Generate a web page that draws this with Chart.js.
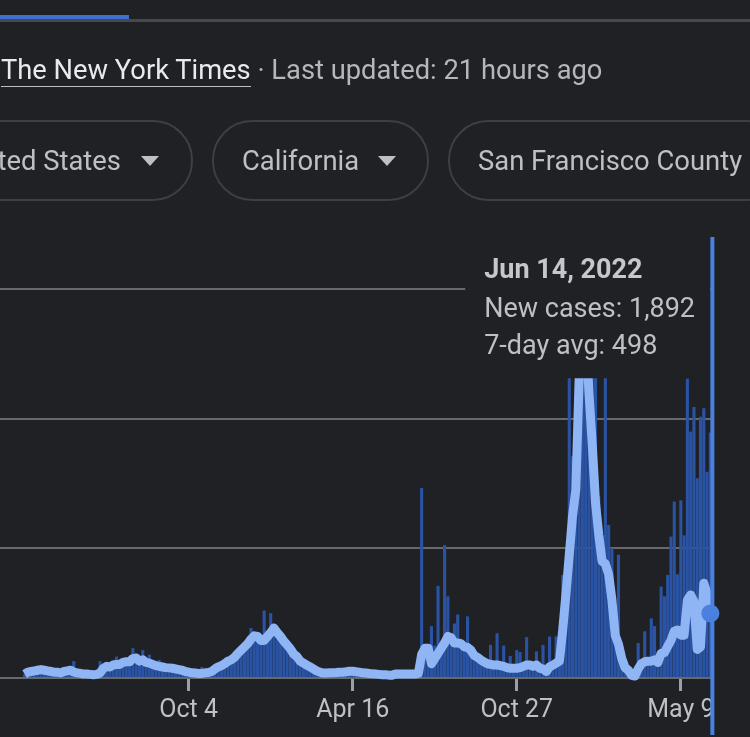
<!DOCTYPE html>
<html>
<head>
<meta charset="utf-8">
<title>New cases - San Francisco County</title>
<script src="https://cdn.jsdelivr.net/npm/chart.js@4"></script>
<style>
  html, body { margin: 0; padding: 0; width: 750px; height: 737px; overflow: hidden; background: #202124; font-family: Roboto, sans-serif; }
  .tab-line { position: absolute; left: 0; top: 19px; width: 750px; height: 3px; background: #46484b; }
  .tab-active { position: absolute; left: 0; top: 15px; width: 129px; height: 4px; background: #3f6fd0; }
  .source { position: absolute; left: 1px; top: 54px; font-size: 27.3px; line-height: 32px; color: #b4b7bc; white-space: nowrap; }
  .source a { color: #e8eaed; text-decoration: none; border-bottom: 1px solid #bdc1c6; }
  .pill { position: absolute; top: 120px; height: 81px; box-sizing: border-box; border: 2px solid #3c4043; border-radius: 40px; color: #bdc1c6; font-size: 27.4px; line-height: 79px; white-space: nowrap; overflow: hidden; }
  .arrow { position: absolute; top: 34px; width: 0; height: 0; border-left: 9px solid transparent; border-right: 9px solid transparent; border-top: 10px solid #bdc1c6; }
  .chart-box { position: absolute; left: 0; top: 0; width: 750px; height: 737px; }
</style>
</head>
<body>
<div class="chart-box"><canvas id="chart"></canvas></div>
<div class="tab-line"></div>
<div class="tab-active"></div>
<div class="source"><a>The New York Times</a> · Last updated: 21 hours ago</div>
<div class="pill" style="left:-100px;width:293px"><span style="position:absolute;right:70px">United States</span><div class="arrow" style="left:239px"></div></div>
<div class="pill" style="left:212px;width:217px"><span style="position:absolute;left:28px">California</span><div class="arrow" style="left:164px"></div></div>
<div class="pill" style="left:448px;width:340px"><span style="position:absolute;left:28px">San Francisco County</span></div>

<script>
const tickLabels = ["Oct 4", "Apr 16", "Oct 27", "May 9"]
const tickIndexes = [57, 107, 157, 207]
const lastDate = "Jun 14, 2022"

// one value about every 4 days
const newCases = [
  null, null, null, null, null, null, null, 30, 40, 45,
  50, 55, 60, 55, 50, 45, 40, 40, 35, 45,
  50, 55, 130, 35, 30, 25, 25, 25, 20, 25,
  130, 70, 85, 80, 95, 165, 100, 115, 120, 120,
  230, 150, 125, 215, 115, 180, 100, 90, 140, 80,
  75, 70, 70, 65, 60, 55, 45, 40, 35, 35,
  30, 85, 35, 40, 45, 65, 80, 90, 105, 125,
  135, 155, 185, 210, 235, 280, 385, 320, 315, 285,
  520, 315, 500, 380, 345, 315, 280, 250, 220, 205,
  160, 125, 110, 95, 80, 65, 50, 40, 35, 35,
  35, 35, 40, 40, 40, 45, 48, 48, 45, 40,
  35, 35, 30, 30, 25, 25, 20, 20, 20, 20,
  25, 25, 25, 25, 25, 25, 25, 30, 1465, 150,
  200, 400, 250, 710, 250, 1025, 630, 300, 420, 490,
  260, 235, 475, 210, 170, 155, 135, 120, 105, 255,
  95, 345, 90, 250, 75, 170, 70, 215, 200, 85,
  315, 95, 85, 205, 70, 255, 45, 320, 95, 320,
  125, 795, 640, 3100, 1710, 1500, 3300, 3000, 3200, 2800,
  2500, 2900, 1400, 1100, 2900, 1180, 1000, 350, 950, 200,
  80, 50, 10, 10, 270, 105, 360, 125, 460, 400,
  115, 705, 630, 795, 1090, 1360, 800, 1370, 1100, 2310,
  1900, 2090, 1540, 2015, 2080, 1590, 1892
]

const sevenDayAvg = [
  null, null, null, null, null, null, null, 30, 45, 50,
  55, 60, 65, 60, 55, 50, 45, 45, 40, 50,
  55, 60, 45, 40, 35, 30, 30, 28, 25, 28,
  40, 75, 90, 85, 100, 105, 105, 120, 125, 125,
  150, 155, 130, 140, 120, 115, 105, 95, 90, 85,
  80, 78, 75, 70, 65, 60, 50, 45, 40, 38,
  35, 35, 40, 42, 50, 70, 85, 95, 110, 130,
  140, 160, 190, 215, 240, 265, 300, 325, 320, 290,
  290, 320, 350, 385, 350, 320, 285, 255, 225, 185,
  165, 130, 115, 100, 85, 70, 55, 45, 38, 38,
  40, 40, 42, 45, 45, 48, 52, 52, 48, 45,
  40, 38, 35, 32, 30, 28, 25, 25, 22, 22,
  30, 30, 30, 30, 30, 30, 30, 35, 180, 230,
  230, 110, 150, 190, 230, 270, 320, 310, 270, 270,
  265, 240, 235, 215, 175, 160, 140, 125, 110, 105,
  100, 100, 95, 90, 80, 75, 75, 75, 80, 90,
  100, 100, 90, 100, 75, 70, 50, 85, 100, 115,
  130, 370, 650, 950, 1250, 1450, 2300, 2850, 2700, 2200,
  1800, 1350, 1100, 900, 880, 800, 600, 330, 260, 150,
  80, 60, 20, 15, 70, 110, 125, 130, 130, 140,
  120, 190, 195, 245, 290, 360, 370, 330, 330, 600,
  640, 590, 220, 240, 730, 650, 498
]

const categories = newCases.map((v, i) => i)
const lastIndex = categories.length - 1

// tooltip stays pinned to the top right, next to the cursor line
Chart.Tooltip.positioners.pinned = () => ({ x: 710, y: 235 })

// vertical cursor on the selected day
const cursorLine = {
  id: "cursorLine",
  afterDatasetsDraw(chart) {
    const x = chart.scales.x.getPixelForValue(lastIndex) + 2
    const ctx = chart.ctx
    ctx.save()
    ctx.strokeStyle = "#4a80e0"
    ctx.lineWidth = 4
    ctx.beginPath()
    ctx.moveTo(x, chart.chartArea.top)
    ctx.lineTo(x, chart.height - 2)
    ctx.stroke()
    ctx.restore()
  },
}

const chart = new Chart(document.getElementById("chart"), {
  type: "bar",
  plugins: [cursorLine],
  data: {
    labels: categories,
    datasets: [
      {
        label: "New cases",
        data: newCases,
        order: 2,
        backgroundColor: "#2a53a3",
        barPercentage: 0.95,
        categoryPercentage: 1,
      },
      {
        type: "line",
        label: "7-day avg",
        data: sevenDayAvg,
        order: 1,
        borderColor: "#8fb5f5",
        borderWidth: 9,
        borderJoinStyle: "round",
        tension: 0,
        pointRadius: ctx => (ctx.dataIndex === lastIndex ? 9 : 0),
        pointHoverRadius: ctx => (ctx.dataIndex === lastIndex ? 9 : 0),
        pointBorderWidth: 0,
        pointHoverBorderWidth: 0,
        pointBackgroundColor: "#4a80e0",
        pointHoverBackgroundColor: "#4a80e0",
        clip: false,
      },
    ],
  },
  options: {
    responsive: true,
    maintainAspectRatio: false,
    animation: false,
    layout: { autoPadding: false, padding: { top: 237, right: 38, left: 0, bottom: 0 } },
    events: [],
    scales: {
      x: {
        grid: { display: true, offset: false, drawOnChartArea: false, tickLength: 13, tickColor: "#9aa0a6", tickWidth: 3 },
        border: { display: false },
        afterBuildTicks: scale => {
          scale.ticks = tickIndexes.map(v => ({ value: v }))
        },
        afterFit: scale => {
          scale.height = 59
          scale.paddingLeft = 0
          scale.paddingRight = 0
        },
        ticks: {
          autoSkip: false,
          maxRotation: 0,
          padding: 5,
          color: "#bdc1c6",
          font: { family: "Roboto", size: 25 },
          callback: value => tickLabels[tickIndexes.indexOf(value)],
        },
      },
      y: {
        min: 0,
        max: 3400,
        afterFit: scale => {
          scale.width = 0
        },
        afterBuildTicks: scale => {
          scale.ticks = [0, 1000, 2000, 3000].map(v => ({ value: v }))
        },
        ticks: { display: false },
        border: { display: false },
        grid: { color: "#68696b", lineWidth: 2, drawTicks: false },
      },
    },
    plugins: {
      legend: { display: false },
      tooltip: {
        enabled: true,
        position: "pinned",
        mode: "index",
        intersect: false,
        xAlign: "right",
        yAlign: "top",
        caretSize: 0,
        caretPadding: 0,
        cornerRadius: 0,
        displayColors: false,
        backgroundColor: "#202124",
        titleColor: "#c4c7cb",
        bodyColor: "#bdc1c6",
        titleFont: { family: "Roboto", size: 27, weight: "bold" },
        bodyFont: { family: "Roboto", size: 27 },
        titleMarginBottom: 7,
        bodySpacing: 4,
        padding: { left: 19, right: 15, top: 20, bottom: 15 },
        callbacks: {
          title: () => lastDate,
          label: item => `${item.dataset.label}: ${item.parsed.y.toLocaleString("en-US")}`,
        },
      },
    },
  },
})

chart.tooltip.setActiveElements(
  [
    { datasetIndex: 0, index: lastIndex },
    { datasetIndex: 1, index: lastIndex },
  ],
  { x: 710, y: 235 }
)
chart.update()
</script>
</body>
</html>
